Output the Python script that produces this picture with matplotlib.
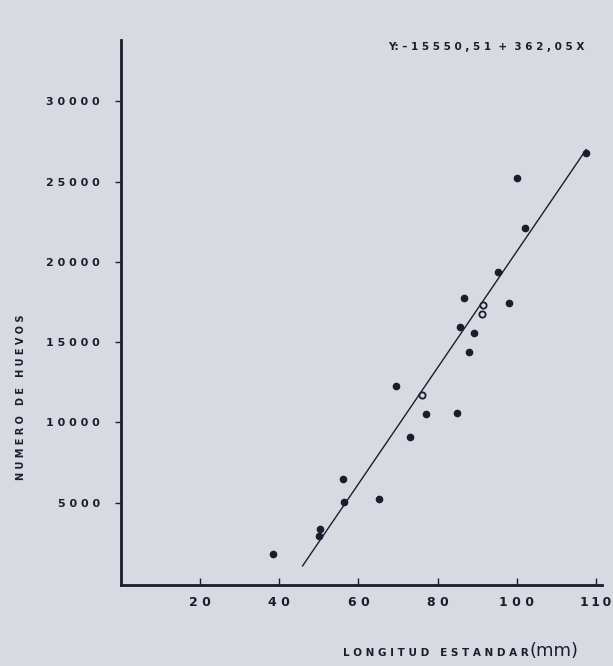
import matplotlib
matplotlib.use("Agg")
import matplotlib.pyplot as plt
import numpy as np

# Data
length_filled = [117.5, 100.1, 102.1, 95.2, 86.7, 98.0, 85.7, 89.1, 87.9, 69.4,
                 77.0, 84.8, 73.0, 56.1, 56.3, 65.2, 50.4, 50.0, 38.4]
eggs_filled = [26760, 25250, 22130, 19400, 17720, 17410, 15960, 15550, 14370, 12300,
               10530, 10610, 9100, 6450, 5040, 5250, 3370, 2960, 1780]
length_open = [91.5, 91.2, 76.1]
eggs_open = [17290, 16750, 11740]

intercept = -15550.51
slope = 362.05
line_x = [45.9, 117.5]

xticks = [20, 40, 60, 80, 100, 120]
xtick_labels = ["2 0", "4 0", "6 0", "8 0", "1 0 0", "1\u20091\u20090"]
yticks = [5000, 10000, 15000, 20000, 25000, 30000]
ytick_labels = ["5 0 0 0", "1 0 0 0 0", "1 5 0 0 0", "2 0 0 0 0", "2 5 0 0 0", "3 0 0 0 0"]

paper = "#d9dae1"
ink = "#1c1c2c"

fig = plt.figure(figsize=(6.13, 6.66), dpi=100, facecolor=paper)
ax = fig.add_axes([0.197, 0.1216, 0.785, 0.818])
ax.set_facecolor(paper)

lx = np.array(line_x)
ax.plot(lx, intercept + slope * lx, color=ink, lw=1.0)
ax.plot(length_filled, eggs_filled, "o", color=ink, ms=4.5, ls="none")
ax.plot(length_open, eggs_open, "o", mfc=paper, mec=ink, mew=1.3, ms=4.5, ls="none")

ax.set_xlim(0, 121.5)
ax.set_ylim(-120, 33800)
for s in ["top", "right"]:
    ax.spines[s].set_visible(False)
for s in ["left", "bottom"]:
    ax.spines[s].set_color(ink)
    ax.spines[s].set_linewidth(2.0)

ax.set_xticks(xticks)
ax.set_xticklabels(xtick_labels, fontsize=9, fontweight="bold", color=ink)
ax.set_yticks(yticks)
ax.set_yticklabels(ytick_labels, fontsize=8, fontweight="bold", color=ink)
ax.tick_params(axis="x", direction="in", length=5, width=1, color=ink, pad=8)
ax.tick_params(axis="y", direction="out", length=4, width=1, color=ink, pad=11)

fig.text(0.793, 0.929, "Y: \u2013 1 5 5 5 0 , 5 1  +  3 6 2 , 0 5 X", ha="center", va="center",
         fontsize=7.5, fontweight="bold", color=ink)
fig.text(0.035, 0.403, "N U M E R O   D E   H U E V O S", rotation=90, ha="center", va="center",
         fontsize=7, fontweight="bold", color=ink)
fig.text(0.862, 0.019, "L O N G I T U D   E S T A N D A R", ha="right", va="center",
         fontsize=7.5, fontweight="bold", color=ink)
fig.text(0.864, 0.022, "(mm)", ha="left", va="center", fontsize=13, color=ink)

fig.savefig("out.png", dpi=100, facecolor=paper)
